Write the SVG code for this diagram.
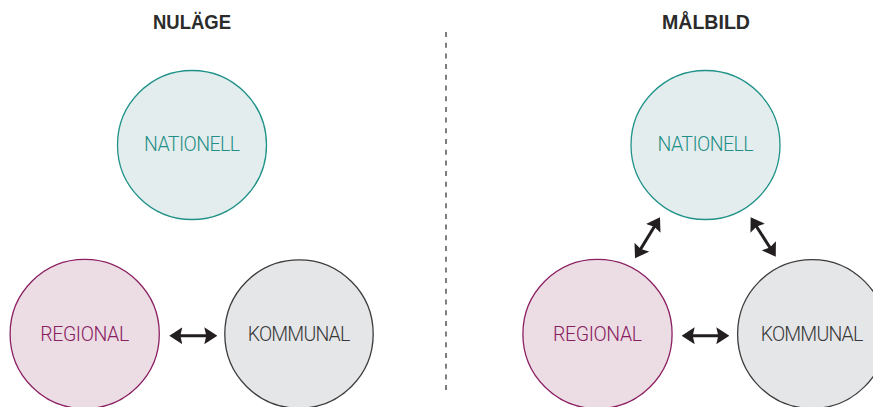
<svg xmlns="http://www.w3.org/2000/svg" width="873" height="407" viewBox="0 0 873 407">
  <style>
    .head { font-family: "Liberation Sans", Arial, sans-serif; font-weight: bold; font-size: 19.5px; fill: #2b2b2b; text-anchor: middle; }
    .lbl { font-family: Roboto, "Liberation Sans", sans-serif; font-weight: 300; font-size: 19.5px; text-anchor: middle; }
    .nat circle { fill: #e4eded; stroke: #1f9289; stroke-width: 1.3; }
    .nat text { fill: #1f8f87; }
    .reg circle { fill: #ecdde4; stroke: #8b1e62; stroke-width: 1.3; }
    .reg text { fill: #88205f; }
    .kom circle { fill: #e5e6e8; stroke: #3c3c3c; stroke-width: 1.3; }
    .kom text { fill: #383838; }
    .link { stroke: #231f20; stroke-width: 3; fill: none; marker-start: url(#tip); marker-end: url(#tip); }
    .divider { stroke: #3a3a3a; stroke-width: 1.3; stroke-dasharray: 5 5.7; }
  </style>
  <defs>
    <marker id="tip" viewBox="0 0 13 17" refX="9" refY="8.5" markerWidth="13" markerHeight="17" markerUnits="userSpaceOnUse" orient="auto-start-reverse">
      <path d="M0,0 L13,8.5 L0,17 L2,8.5 Z" fill="#231f20"/>
    </marker>
  </defs>

  <!-- section titles -->
  <text class="head" x="192" y="28.5" textLength="78" lengthAdjust="spacingAndGlyphs">NULÄGE</text>
  <text class="head" x="706" y="28.5" textLength="88" lengthAdjust="spacingAndGlyphs">MÅLBILD</text>

  <!-- divider between the two states -->
  <line class="divider" x1="446" y1="32" x2="446" y2="391"/>

  <!-- current state -->
  <g id="nationell-nu" class="nat">
    <circle cx="192" cy="145" r="74.5"/>
    <text class="lbl" x="192" y="151" textLength="96" lengthAdjust="spacing">NATIONELL</text>
  </g>
  <g id="regional-nu" class="reg">
    <circle cx="84.7" cy="334" r="74.6"/>
    <text class="lbl" x="84.7" y="341" textLength="89" lengthAdjust="spacing">REGIONAL</text>
  </g>
  <g id="kommunal-nu" class="kom">
    <circle cx="299" cy="334" r="74.2"/>
    <text class="lbl" x="299" y="341" textLength="102.5" lengthAdjust="spacing">KOMMUNAL</text>
  </g>

  <!-- target state -->
  <g id="nationell-mal" class="nat">
    <circle cx="705.5" cy="145" r="74.5"/>
    <text class="lbl" x="705.5" y="151" textLength="96" lengthAdjust="spacing">NATIONELL</text>
  </g>
  <g id="regional-mal" class="reg">
    <circle cx="597.5" cy="334" r="74.6"/>
    <text class="lbl" x="597.5" y="341" textLength="89" lengthAdjust="spacing">REGIONAL</text>
  </g>
  <g id="kommunal-mal" class="kom">
    <circle cx="812" cy="334" r="74.4"/>
    <text class="lbl" x="812" y="341" textLength="102.5" lengthAdjust="spacing">KOMMUNAL</text>
  </g>

  <!-- connectors -->
  <g id="connectors">
    <line class="link" x1="173.3" y1="335.7" x2="213.3" y2="335.7"/>
    <line class="link" x1="685.7" y1="335.7" x2="725.3" y2="335.7"/>
    <line class="link" x1="657.9" y1="220.7" x2="637.1" y2="254.9"/>
    <line class="link" x1="752.8" y1="220.7" x2="773.6" y2="253.3"/>
  </g>
</svg>
